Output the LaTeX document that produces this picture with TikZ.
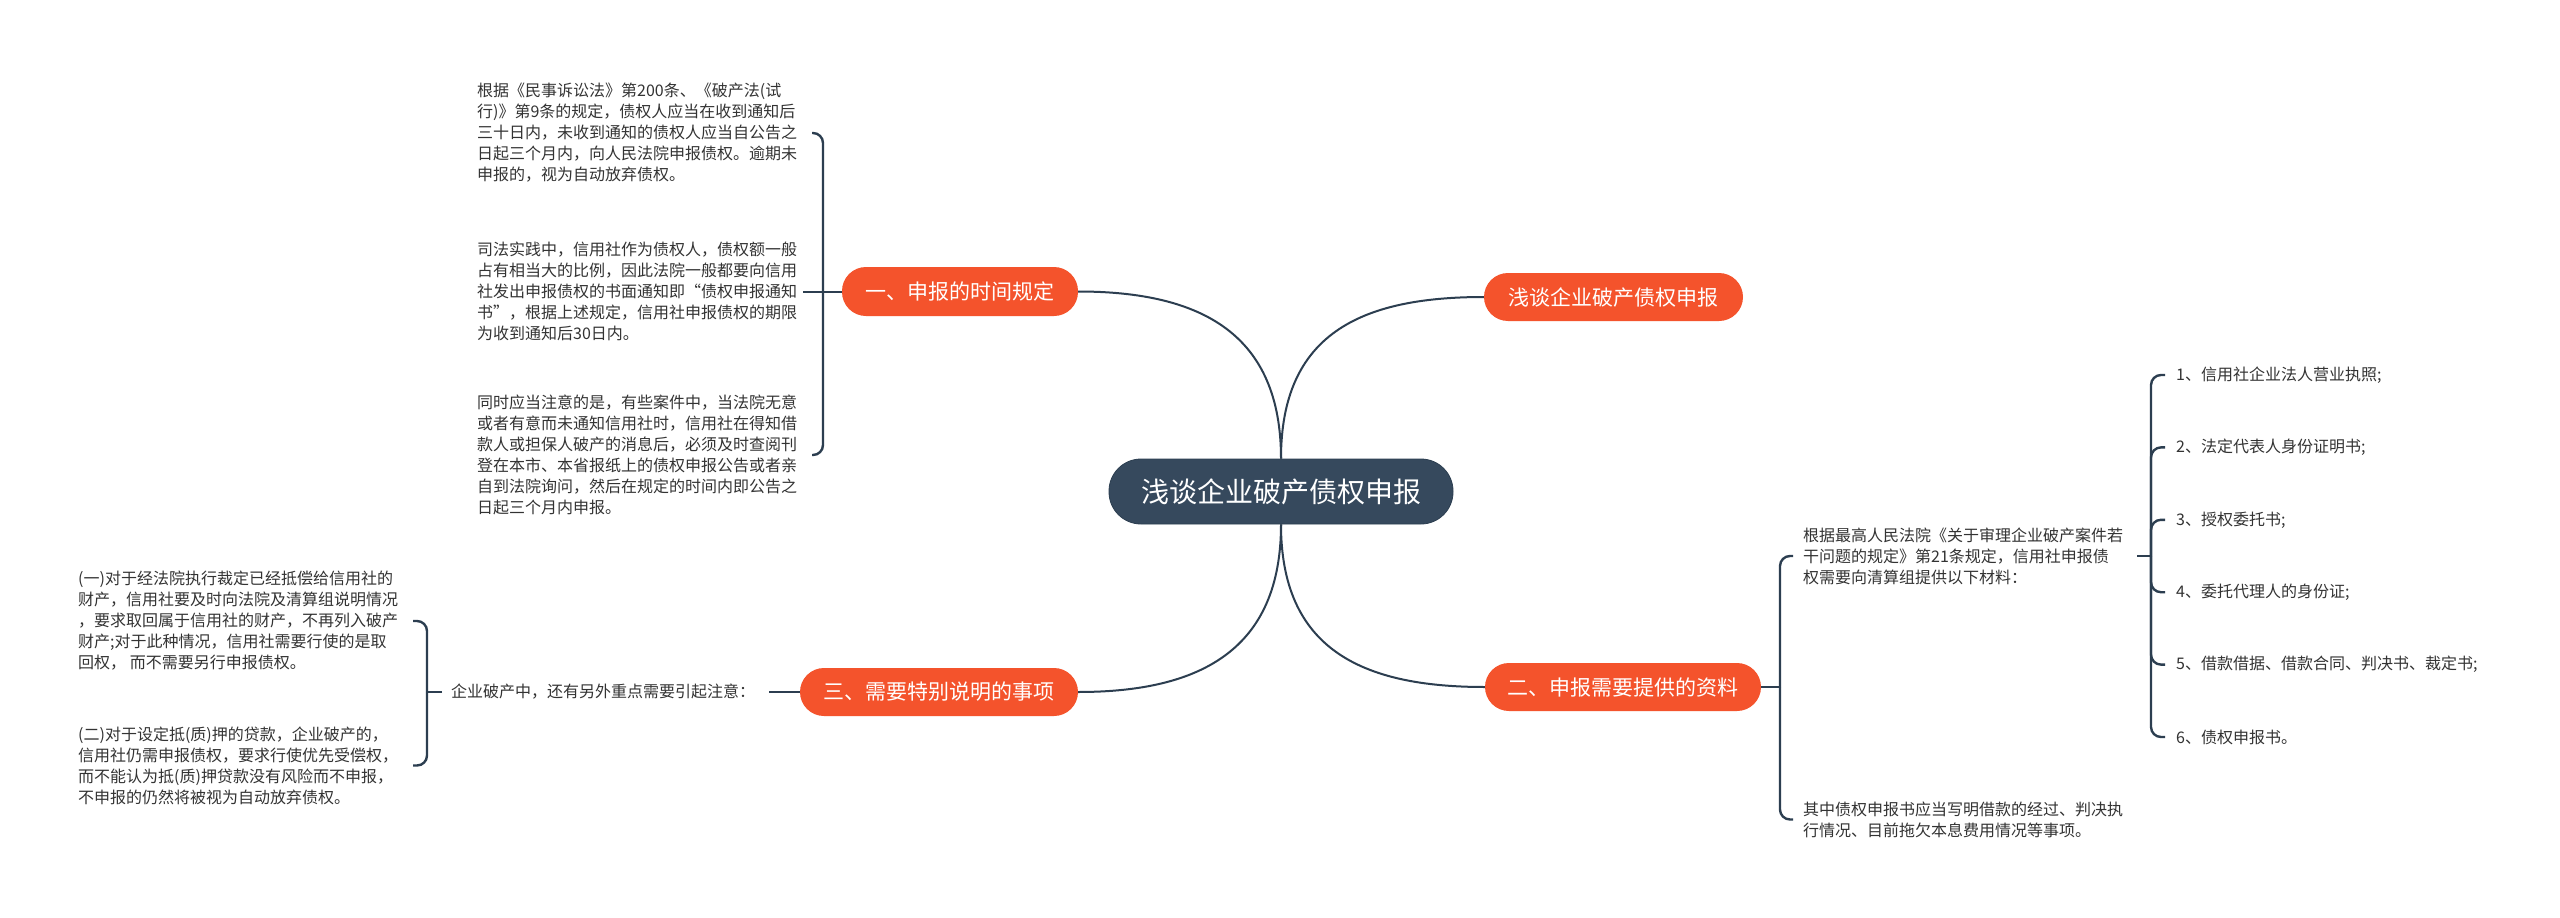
\documentclass[tikz,border=0pt]{standalone}
\usepackage{fontspec}
\setmainfont{Noto Sans CJK SC}
\usetikzlibrary{calc}
\definecolor{lineC}{HTML}{2C3E50}
\definecolor{orangeC}{HTML}{F4532C}
\definecolor{rootC}{HTML}{36495D}
\definecolor{textC}{HTML}{333333}
\begin{document}
\begin{tikzpicture}[x=1pt,y=-1pt,
  conn/.style={draw=lineC,line width=2pt},
  brace/.style={draw=lineC,line width=2.4pt,rounded corners=10pt},
  txt/.style={anchor=west,align=left,inner sep=0pt,text=textC,font=\fontsize{16}{21}\selectfont},
  topic/.style={fill=orangeC,text=white,rounded corners=24pt,inner sep=0pt,minimum height=48pt,font=\fontsize{21}{25}\selectfont},
  rootnode/.style={fill=rootC,draw=lineC,line width=0.8pt,text=white,rounded corners=32pt,inner sep=0pt,minimum height=65pt,minimum width=344pt,font=\fontsize{28}{32}\selectfont}]
\useasboundingbox (0,0) rectangle (2560,918);
\fill[white] (0,0) rectangle (2560,918);

% main nodes
\node[rootnode] (c) at (1281,491.5) {浅谈企业破产债权申报};
\node[topic,minimum width=236pt,minimum height=49pt] (b1) at (960,291.5) {一、申报的时间规定};
\node[topic,minimum width=259pt] (bt) at (1613.5,297) {浅谈企业破产债权申报};
\node[topic,minimum width=276pt] (b2) at (1623,687) {二、申报需要提供的资料};
\node[topic,minimum width=278pt] (b3) at (939,692) {三、需要特别说明的事项};

% curves from root
\draw[conn] (c.north) .. controls ($(c.north)+(0,-124)$) and ($(b1.east)+(124,0)$) .. (b1.east);
\draw[conn] (c.north) .. controls ($(c.north)+(0,-124)$) and ($(bt.west)+(-124,0)$) .. (bt.west);
\draw[conn] (c.south) .. controls ($(c.south)+(0,124)$) and ($(b3.east)+(124,0)$) .. (b3.east);
\draw[conn] (c.south) .. controls ($(c.south)+(0,124)$) and ($(b2.west)+(-124,0)$) .. (b2.west);

% branch 1 texts
\node[txt] (L1) at (477,133) {根据《民事诉讼法》第200条、《破产法(试\\行)》第9条的规定，债权人应当在收到通知后\\三十日内，未收到通知的债权人应当自公告之\\日起三个月内，向人民法院申报债权。逾期未\\申报的，视为自动放弃债权。};
\node[txt] (L2) at (477,291.5) {司法实践中，信用社作为债权人，债权额一般\\占有相当大的比例，因此法院一般都要向信用\\社发出申报债权的书面通知即“债权申报通知\\书”，根据上述规定，信用社申报债权的期限\\为收到通知后30日内。};
\node[txt] (L3) at (477,455) {同时应当注意的是，有些案件中，当法院无意\\或者有意而未通知信用社时，信用社在得知借\\款人或担保人破产的消息后，必须及时查阅刊\\登在本市、本省报纸上的债权申报公告或者亲\\自到法院询问，然后在规定的时间内即公告之\\日起三个月内申报。};
\coordinate (v1) at (823,0);
\coordinate (t1) at (812,0);
\draw[conn] (b1.west) -- (v1 |- b1.west);
\draw[brace] (v1 |- b1.west) |- (t1 |- L1.east);
\draw[brace] (v1 |- b1.west) |- (t1 |- L3.east);
\draw[conn] ([xshift=6pt]L2.east) -- (v1 |- L2.east);

% branch 3 texts
\node[txt] (M) at (451,692) {企业破产中，还有另外重点需要引起注意：};
\draw[conn] ([xshift=14pt]M.east) -- (b3.west);
\node[txt] (A) at (78,621) {(一)对于经法院执行裁定已经抵偿给信用社的\\财产，信用社要及时向法院及清算组说明情况\\，要求取回属于信用社的财产，不再列入破产\\财产;对于此种情况，信用社需要行使的是取\\回权，\ 而不需要另行申报债权。};
\node[txt] (B) at (78,765.5) {(二)对于设定抵(质)押的贷款，企业破产的，\\信用社仍需申报债权，要求行使优先受偿权，\\而不能认为抵(质)押贷款没有风险而不申报，\\不申报的仍然将被视为自动放弃债权。};
\coordinate (v3) at (427,0);
\coordinate (t3) at (413,0);
\draw[conn] ([xshift=-9pt]M.west) -- (v3 |- M.west);
\draw[brace] (v3 |- M.west) |- (t3 |- A.east);
\draw[brace] (v3 |- M.west) |- (t3 |- B.east);

% branch 2 texts
\node[txt] (R1) at (1803,556) {根据最高人民法院《关于审理企业破产案件若\\干问题的规定》第21条规定，信用社申报债\\权需要向清算组提供以下材料：};
\node[txt] (R2) at (1803,819.5) {其中债权申报书应当写明借款的经过、判决执\\行情况、目前拖欠本息费用情况等事项。};
\coordinate (v2) at (1780,0);
\coordinate (t2) at (1793,0);
\draw[conn] (b2.east) -- (v2 |- b2.east);
\draw[brace] (v2 |- b2.east) |- (t2 |- R1.west);
\draw[brace] (v2 |- b2.east) |- (t2 |- R2.west);

% items
\node[txt] (I1) at (2176,375) {1、信用社企业法人营业执照;};
\node[txt] (I2) at (2176,447.4) {2、法定代表人身份证明书;};
\node[txt] (I3) at (2176,519.8) {3、授权委托书;};
\node[txt] (I4) at (2176,592.2) {4、委托代理人的身份证;};
\node[txt] (I5) at (2176,664.6) {5、借款借据、借款合同、判决书、裁定书;};
\node[txt] (I6) at (2176,737) {6、债权申报书。};
\coordinate (v4) at (2151,0);
\coordinate (t4) at (2165,0);
\draw[conn] ([xshift=14pt]R1.east) -- (v4 |- R1.east);
\foreach \i in {1,...,6}{
  \draw[brace] (v4 |- R1.east) |- (t4 |- I\i.west);
}
\end{tikzpicture}
\end{document}
